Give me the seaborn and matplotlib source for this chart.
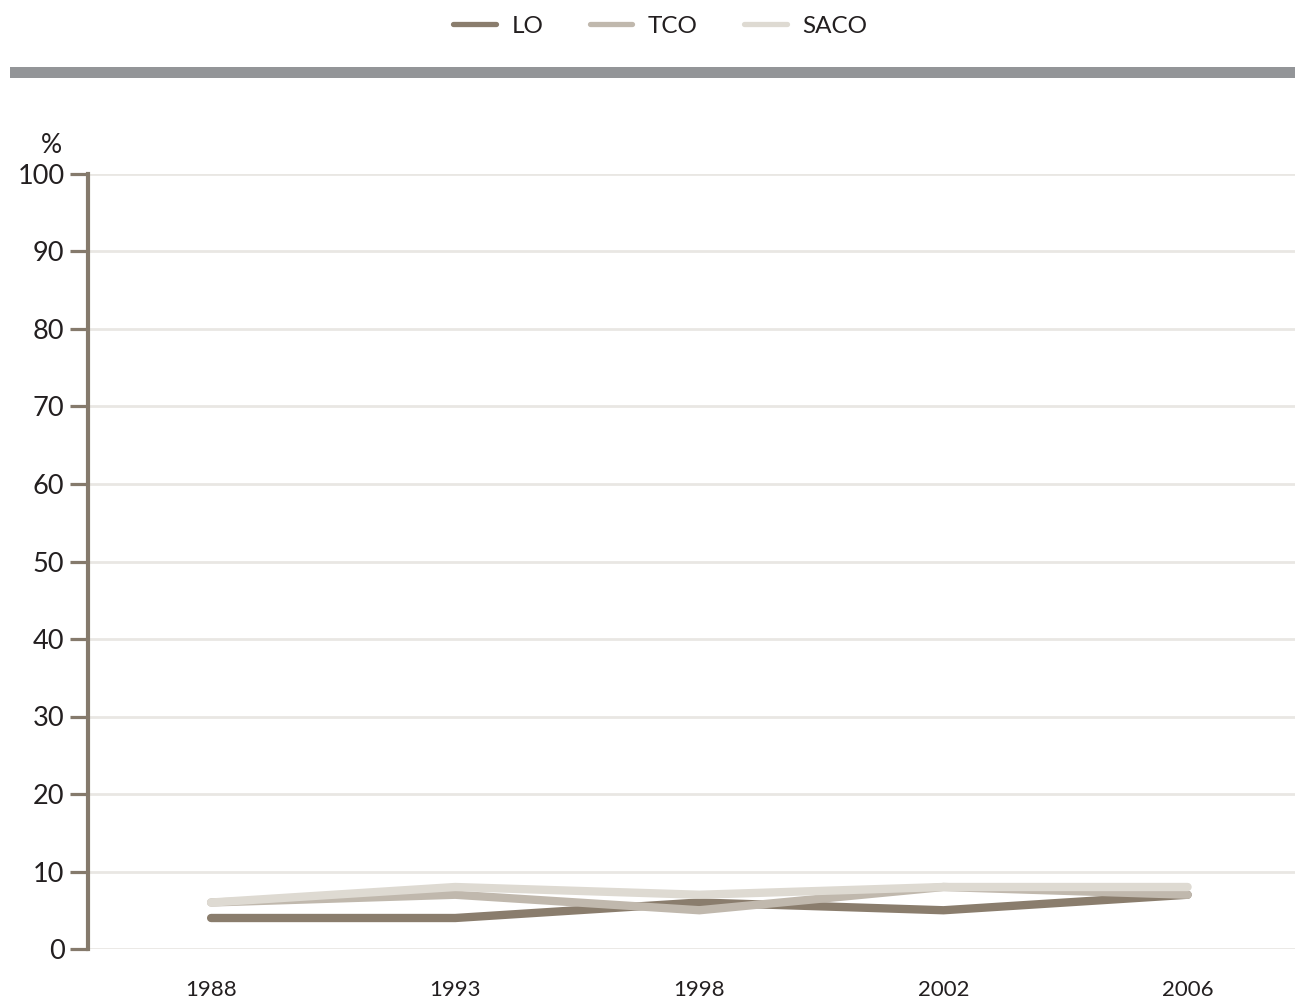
import matplotlib
matplotlib.use("Agg")
import matplotlib.pyplot as plt
import seaborn as sns
import pandas as pd
from matplotlib.patches import Rectangle
from matplotlib.lines import Line2D

years = ["1988", "1993", "1998", "2002", "2006"]
lo = [4, 4, 6, 5, 7]
tco = [6, 7, 5, 8, 7]
saco = [6, 8, 7, 8, 8]
series_names = ["LO", "TCO", "SACO"]
colors = ["#8a7d6d", "#c0b8ad", "#dedad2"]

df = pd.DataFrame({
    "year": years * 3,
    "value": lo + tco + saco,
    "series": [s for s in series_names for _ in years],
})
df["x"] = list(range(len(years))) * 3

sns.set_theme(style="white")
plt.rcParams["font.family"] = ["Lato", "DejaVu Sans"]

fig = plt.figure(figsize=(12.95, 10), dpi=100)
ax = fig.add_axes([0.068, 0.051, 0.932, 0.775])

sns.lineplot(data=df, x="x", y="value", hue="series", hue_order=series_names,
             palette=colors, linewidth=6, ax=ax, legend=False,
             solid_capstyle="round", solid_joinstyle="miter")

ax.set_xlim(-0.504, 4.44)
ax.set_ylim(0, 100)
ax.set_yticks(range(0, 101, 10))
ax.set_xticks(range(len(years)))
ax.set_xticklabels(years, fontsize=16, color="#231f20")
ax.tick_params(axis="x", bottom=False, length=0, pad=22)
ax.tick_params(axis="y", left=True, length=13, width=2.3, color="#857a6c",
               direction="out", labelsize=19.5, labelcolor="#231f20", pad=4)
ax.grid(axis="y", color="#e9e7e3", linewidth=2)
ax.set_axisbelow(True)
for s in ["top", "right", "bottom"]:
    ax.spines[s].set_visible(False)
ax.spines["left"].set_color("#857a6c")
ax.spines["left"].set_linewidth(3)
ax.set_xlabel("")
ax.set_ylabel("")
ax.text(-0.022, 1.02, "%", transform=ax.transAxes, ha="right", va="bottom",
        fontsize=19, color="#231f20")

fig.add_artist(Rectangle((0.008, 0.922), 0.992, 0.011, transform=fig.transFigure,
                         color="#939598", linewidth=0))

handles = [Line2D([0], [0], color=c, linewidth=3.8, solid_capstyle="round") for c in colors]
fig.legend(handles, series_names, loc="center", bbox_to_anchor=(0.51, 0.974), ncol=3,
           frameon=False, fontsize=17.5, handlelength=1.75, columnspacing=1.9,
           handletextpad=0.65, labelcolor="#231f20")

fig.savefig("out.png", dpi=100)
